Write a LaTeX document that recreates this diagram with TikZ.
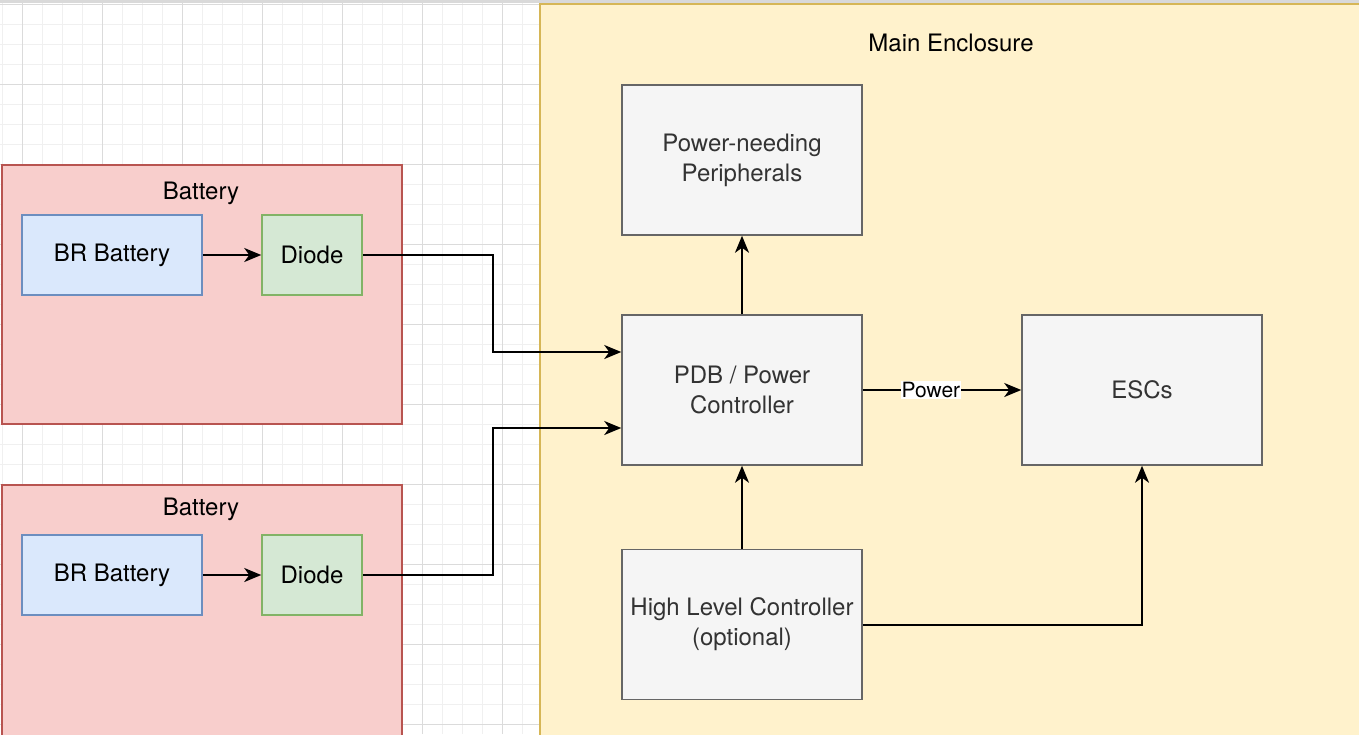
\documentclass[tikz,border=0pt]{standalone}
\usepackage{fontspec}
\setmainfont{TeX Gyre Heros}
\usepackage{xcolor}
\usepackage{tikz}
\usetikzlibrary{arrows.meta}
\definecolor{encfill}{HTML}{FFF2CC}
\definecolor{encline}{HTML}{D6B656}
\definecolor{batfill}{HTML}{F8CECC}
\definecolor{batline}{HTML}{B85450}
\definecolor{brfill}{HTML}{DAE8FC}
\definecolor{brline}{HTML}{6C8EBF}
\definecolor{dfill}{HTML}{D5E8D4}
\definecolor{dline}{HTML}{82B366}
\definecolor{gfill}{HTML}{F5F5F5}
\definecolor{gline}{HTML}{666666}
\definecolor{gtext}{HTML}{333333}

\begin{document}
\begin{tikzpicture}[
    x=0.5pt, y=-0.5pt,
    grp/.style={draw, line width=0.75pt, inner sep=0pt},
    box/.style={draw, line width=0.75pt, align=center, font=\fontsize{12}{15}\selectfont,
                minimum width=120pt, minimum height=75pt, inner sep=2pt},
    part/.style={draw, line width=0.75pt, align=center, font=\fontsize{12}{15}\selectfont,
                 minimum height=40pt, inner sep=2pt},
    ttl/.style={font=\fontsize{12}{15}\selectfont},
    arw/.style={-{Stealth[length=8.5pt, width=7pt, inset=2.5pt]}, line width=1pt},
    lbl/.style={fill=white, inner sep=0.5pt, font=\fontsize{10.5}{12}\selectfont},
]
\useasboundingbox (0,0) rectangle (1359,734);
\clip (0,0) rectangle (1359,734);
\fill[white] (0,0) rectangle (1359,734);
\foreach \x in {2,22,...,542}
    \draw[black!6, line width=0.5pt] (\x,0) -- (\x,734);
\foreach \y in {4,24,...,734}
    \draw[black!6, line width=0.5pt] (0,\y) -- (542,\y);
\foreach \x in {22,102,...,542}
    \draw[black!14, line width=0.5pt] (\x,0) -- (\x,734);
\foreach \y in {4,84,...,734}
    \draw[black!14, line width=0.5pt] (0,\y) -- (542,\y);
\fill[black!15] (0,0) rectangle (1359,3);

\node[grp, fill=encfill, draw=encline, minimum width=415pt, minimum height=371pt] (encl) at (955,375) {};
\node[ttl] (encT) at (951,43) {Main Enclosure};

\node[grp, fill=batfill, draw=batline, minimum width=200pt, minimum height=129.5pt] (bat1) at (202,294.5) {};
\node[ttl] (bat1T) at (201,193) {Battery};
\node[part, fill=brfill, draw=brline, minimum width=90pt] (br1) at (112,255) {BR Battery};
\node[part, fill=dfill, draw=dline, minimum width=50pt] (d1) at (312,255) {Diode};

\node[grp, fill=batfill, draw=batline, minimum width=200pt, minimum height=130pt] (bat2) at (202,615) {};
\node[ttl] (bat2T) at (201,509) {Battery};
\node[part, fill=brfill, draw=brline, minimum width=90pt] (br2) at (112,575) {BR Battery};
\node[part, fill=dfill, draw=dline, minimum width=50pt] (d2) at (312,575) {Diode};

\node[box, fill=gfill, draw=gline, text=gtext] (per) at (742,160) {Power-needing\\Peripherals};
\node[box, fill=gfill, draw=gline, text=gtext] (pdb) at (742,390) {PDB / Power\\Controller};
\node[box, fill=gfill, draw=gline, text=gtext] (esc) at (1142,390) {ESCs};
\node[box, fill=gfill, draw=gline, text=gtext] (hlc) at (742,624.5) {High Level Controller\\(optional)};

\draw[arw] (br1) -- (d1);
\draw[arw] (br2) -- (d2);
\draw[arw] (d1.east) -- ++(130,0) |- ([yshift=19pt]pdb.west);
\draw[arw] (d2.east) -- ++(130,0) |- ([yshift=-19pt]pdb.west);
\draw[arw] (pdb) -- (per);
\draw[arw] (hlc) -- (pdb);
\draw[arw] (pdb) -- node[lbl, pos=0.43] {Power} (esc);
\draw[arw] (hlc.east) -| (esc.south);
\end{tikzpicture}
\end{document}
